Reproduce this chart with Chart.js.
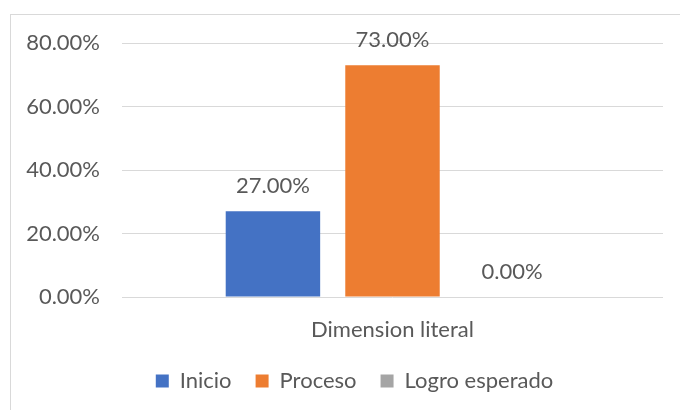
<!DOCTYPE html>
<html><head><meta charset="utf-8">
<script src="https://cdn.jsdelivr.net/npm/chart.js@4"></script>
<style>
html,body{margin:0;padding:0;background:#fff;}
#wrap{position:relative;width:680px;height:410px;}
#frame{position:absolute;left:10px;top:14px;width:680px;height:400px;border:1px solid #d9d9d9;box-sizing:border-box;}
canvas{position:absolute;left:0;top:0;}
</style></head>
<body>
<div id="wrap"><div id="frame"></div><canvas id="c" width="680" height="410"></canvas></div>
<script>
const categories = ["Dimension literal"];
const seriesNames = ["Inicio", "Proceso", "Logro esperado"];
const seriesValues = [[27], [73], [0]];
const seriesColors = ["#4472C4", "#ED7D31", "#A5A5A5"];
const yTicks = [0, 20, 40, 60, 80];

const FONT = "Lato, 'Open Sans', sans-serif";
const FS = 22;
const TXT = "#595959";

const labelPlugin = {
  id: 'vals',
  afterLayout(chart) {
    if (chart.legend) { chart.legend.left += 23; chart.legend.right += 23; }
  },
  afterDatasetsDraw(chart) {
    const ctx = chart.ctx;
    ctx.save();
    ctx.font = FS + "px " + FONT;
    ctx.fillStyle = TXT;
    ctx.textAlign = "center";
    ctx.textBaseline = "middle";
    chart.data.datasets.forEach((ds, i) => {
      chart.getDatasetMeta(i).data.forEach((bar, j) => {
        ctx.fillText(ds.data[j].toFixed(2) + "%", bar.x, bar.y - 25);
      });
    });
    ctx.restore();
  }
};

new Chart(document.getElementById('c'), {
  type: 'bar',
  data: {
    labels: categories,
    datasets: seriesNames.map((n, i) => ({
      label: n, data: seriesValues[i], backgroundColor: seriesColors[i],
      categoryPercentage: 0.663, barPercentage: 0.79
    }))
  },
  options: {
    responsive: false, animation: false,
    layout: { padding: { top: 43, right: 17, left: 0, bottom: 8 } },
    plugins: {
      tooltip: { enabled: false },
      legend: {
        position: 'bottom',
        labels: { font: { size: FS, family: FONT }, color: TXT, boxWidth: 13, boxHeight: 13, padding: 24 }
      }
    },
    scales: {
      x: {
        grid: { display: false },
        border: { display: false },
        ticks: { font: { size: FS, family: FONT }, color: TXT, padding: 12 },
        afterFit(s) { s.height = 49; }
      },
      y: {
        min: 0, max: 80,
        afterBuildTicks(s) { s.ticks = yTicks.map(v => ({ value: v })); },
        grid: { color: "#d9d9d9", drawTicks: false, lineWidth: 1 },
        border: { display: false },
        ticks: { font: { size: FS, family: FONT }, color: TXT, padding: 22,
          callback: v => v.toFixed(2) + "%" },
        afterFit(s) { s.width = 122; }
      }
    }
  },
  plugins: [labelPlugin]
});
</script>
</body></html>
